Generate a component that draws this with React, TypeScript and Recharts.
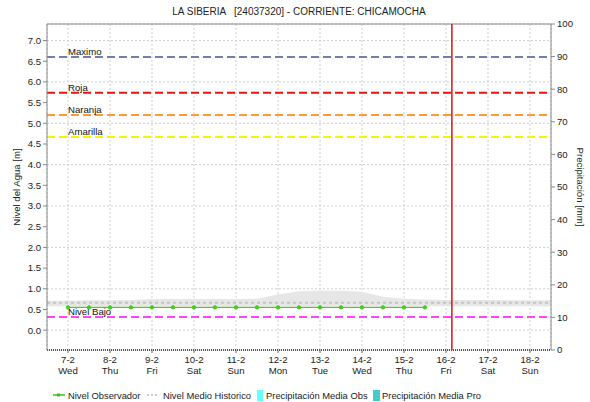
import React from 'react';
import {
  ComposedChart,
  Line,
  Area,
  Bar,
  XAxis,
  YAxis,
  CartesianGrid,
  ReferenceLine,
} from 'recharts';

// days of February (numeric x), ticks one per day
const dayTicks = [7, 8, 9, 10, 11, 12, 13, 14, 15, 16, 17, 18];
const dayLabels = ['7-2', '8-2', '9-2', '10-2', '11-2', '12-2', '13-2', '14-2', '15-2', '16-2', '17-2', '18-2'];
const weekDays = ['Wed', 'Thu', 'Fri', 'Sat', 'Sun', 'Mon', 'Tue', 'Wed', 'Thu', 'Fri', 'Sat', 'Sun'];

// observed level, every 12 h
const obsTimes = [7, 7.5, 8, 8.5, 9, 9.5, 10, 10.5, 11, 11.5, 12, 12.5, 13, 13.5, 14, 14.5, 15, 15.5];
const nivelObservador = [0.55, 0.55, 0.55, 0.55, 0.55, 0.55, 0.55, 0.55, 0.55, 0.55, 0.55, 0.55, 0.55, 0.55, 0.55, 0.55, 0.55, 0.55];

// historic mean level with its min / max band
const histTimes = [6.5, 7, 7.5, 8, 8.5, 9, 9.5, 10, 10.5, 11, 11.5, 12, 12.5, 13, 13.5, 14, 14.5, 15, 15.5, 16, 16.5, 17, 17.5, 18, 18.5];
const histMedio = [0.66, 0.66, 0.66, 0.66, 0.66, 0.66, 0.66, 0.66, 0.66, 0.66, 0.66, 0.66, 0.66, 0.66, 0.66, 0.66, 0.66, 0.66, 0.66, 0.66, 0.66, 0.66, 0.66, 0.66, 0.66];
const histMax = [0.71, 0.71, 0.72, 0.72, 0.73, 0.75, 0.75, 0.75, 0.75, 0.75, 0.76, 0.86, 0.94, 0.96, 0.95, 0.93, 0.81, 0.76, 0.74, 0.73, 0.73, 0.73, 0.72, 0.72, 0.72];
const histMin = [0.58, 0.58, 0.58, 0.58, 0.58, 0.58, 0.58, 0.58, 0.58, 0.58, 0.58, 0.58, 0.58, 0.58, 0.58, 0.58, 0.58, 0.58, 0.58, 0.58, 0.58, 0.58, 0.58, 0.58, 0.58];

// precipitation (mm), none recorded
const precipObs = [0, 0, 0, 0, 0, 0, 0, 0, 0, 0, 0, 0];
const precipPro = [0, 0, 0, 0, 0, 0, 0, 0, 0, 0, 0, 0];

// alert thresholds (m)
const umbrales = [
  { name: 'Maximo', value: 6.6, color: '#7080a8' },
  { name: 'Roja', value: 5.74, color: '#ee1111' },
  { name: 'Naranja', value: 5.2, color: '#ff9933' },
  { name: 'Amarilla', value: 4.67, color: '#f5f500' },
  { name: 'Nivel Bajo', value: 0.32, color: '#ff44ff' },
];

const ahora = 16.14;

const leftTicks = [0, 0.5, 1, 1.5, 2, 2.5, 3, 3.5, 4, 4.5, 5, 5.5, 6, 6.5, 7];
const rightTicks = [0, 10, 20, 30, 40, 50, 60, 70, 80, 90, 100];

const FONT = '"Liberation Sans", Arial, sans-serif';

const data = histTimes.map((t, i) => {
  const oi = obsTimes.indexOf(t);
  const di = dayTicks.indexOf(t);
  return {
    t,
    medio: histMedio[i],
    banda: [histMin[i], histMax[i]],
    nivel: oi >= 0 ? nivelObservador[oi] : undefined,
    pObs: di >= 0 ? precipObs[di] : undefined,
    pPro: di >= 0 ? precipPro[di] : undefined,
  };
});

const DayTick = ({ x, y, payload }: any) => {
  const i = dayTicks.indexOf(payload.value);
  return (
    <g>
      <text x={x} y={y + 8} textAnchor="middle" fontSize={9.6} fontFamily={FONT} fill="#222">
        {dayLabels[i]}
      </text>
      <text x={x} y={y + 19} textAnchor="middle" fontSize={9.6} fontFamily={FONT} fill="#222">
        {weekDays[i]}
      </text>
    </g>
  );
};

const umbralLabel = (name: string) => (props: any) => {
  const vb = props.viewBox;
  return (
    <text x={vb.x + 21} y={vb.y - 2} fontSize={9.6} fontFamily={FONT} fill="#111">
      {name}
    </text>
  );
};

export default function App() {
  return (
    <div style={{ position: 'absolute', left: 0, top: 0, width: 590, height: 402, background: 'white', fontFamily: FONT }}>
      <div style={{ position: 'absolute', left: 47, width: 504, top: 6, textAlign: 'center', fontSize: 10, color: '#222', whiteSpace: 'pre' }}>
        {'LA SIBERIA   [24037320] - CORRIENTE: CHICAMOCHA'}
      </div>
      <ComposedChart width={590} height={402} data={data} margin={{ top: 24, right: 0, bottom: 22, left: 0 }}>
        <CartesianGrid yAxisId="left" stroke="#cfcfcf" strokeDasharray="2 2" />
        <XAxis
          dataKey="t"
          type="number"
          domain={[6.5, 18.5]}
          ticks={dayTicks}
          height={30}
          tick={<DayTick />}
          tickSize={3}
          tickLine={{ stroke: '#666' }}
          axisLine={{ stroke: '#555', strokeWidth: 2, strokeDasharray: '1 1' }}
        />
        <YAxis
          yAxisId="left"
          domain={[-0.48, 7.4]}
          ticks={leftTicks}
          allowDataOverflow
          width={47}
          tickSize={4}
          tickFormatter={(v: number) => v.toFixed(1)}
          tick={{ fontSize: 9.6, fontFamily: FONT, fill: '#222' }}
          tickLine={{ stroke: '#888' }}
          axisLine={{ stroke: '#888' }}
          label={() => (
            <text
              x={17}
              y={187}
              transform="rotate(-90 17 187)"
              textAnchor="middle"
              dominantBaseline="middle"
              fontSize={9.6}
              fontFamily={FONT}
              fill="#222"
            >
              Nivel del Agua [m]
            </text>
          )}
        />
        <YAxis
          yAxisId="right"
          orientation="right"
          domain={[0, 100]}
          ticks={rightTicks}
          width={39}
          tickSize={4}
          tick={{ fontSize: 9.6, fontFamily: FONT, fill: '#222' }}
          tickLine={{ stroke: '#888' }}
          axisLine={{ stroke: '#888' }}
          label={() => (
            <text
              x={580}
              y={187}
              transform="rotate(90 580 187)"
              textAnchor="middle"
              dominantBaseline="middle"
              fontSize={9.6}
              fontFamily={FONT}
              fill="#222"
            >
              Precipitación [mm]
            </text>
          )}
        />
        <ReferenceLine yAxisId="left" y={7.4} stroke="#888" />
        <Area
          yAxisId="left"
          dataKey="banda"
          stroke="none"
          fill="#e6e6e6"
          fillOpacity={1}
          isAnimationActive={false}
        />
        <Line
          yAxisId="left"
          dataKey="medio"
          stroke="#c4c4c4"
          strokeWidth={2}
          strokeDasharray="3 3"
          dot={false}
          isAnimationActive={false}
        />
        <Bar yAxisId="right" dataKey="pObs" fill="#66ffff" barSize={10} isAnimationActive={false} />
        <Bar yAxisId="right" dataKey="pPro" fill="#44cccc" barSize={10} isAnimationActive={false} />
        {umbrales.map((u) => (
          <ReferenceLine
            key={u.name}
            yAxisId="left"
            y={u.value}
            stroke={u.color}
            strokeWidth={2}
            strokeDasharray="8 4"
            label={umbralLabel(u.name)}
          />
        ))}
        <Line
          yAxisId="left"
          dataKey="nivel"
          stroke="#66bb33"
          strokeWidth={1.2}
          dot={{ r: 1.7, fill: '#44cc22', stroke: '#44cc22', strokeWidth: 1 }}
          connectNulls
          isAnimationActive={false}
        />
        <ReferenceLine yAxisId="left" x={ahora} stroke="#dd1111" strokeWidth={1.5} />
      </ComposedChart>
      <svg width={590} height={14} style={{ position: 'absolute', left: 0, top: 388 }}>
        <line x1={53} y1={7} x2={65} y2={7} stroke="#44bb22" strokeWidth={1.5} />
        <rect x={57} y={5.5} width={3} height={3} fill="#44bb22" />
        <line x1={147} y1={7} x2={159} y2={7} stroke="#c8c8c8" strokeWidth={2} strokeDasharray="2 2" />
        <rect x={257} y={2} width={6} height={11} fill="#66ffff" />
        <rect x={373} y={2} width={7} height={11} fill="#44cccc" />
        <text x={68} y={11} fontSize={9.4} fontFamily={FONT} fill="#222">Nivel Observador</text>
        <text x={163} y={11} fontSize={9.4} fontFamily={FONT} fill="#222">Nivel Medio Historico</text>
        <text x={266} y={11} fontSize={9.4} fontFamily={FONT} fill="#222">Precipitación Media Obs</text>
        <text x={382} y={11} fontSize={9.4} fontFamily={FONT} fill="#222">Precipitación Media Pro</text>
      </svg>
    </div>
  );
}
